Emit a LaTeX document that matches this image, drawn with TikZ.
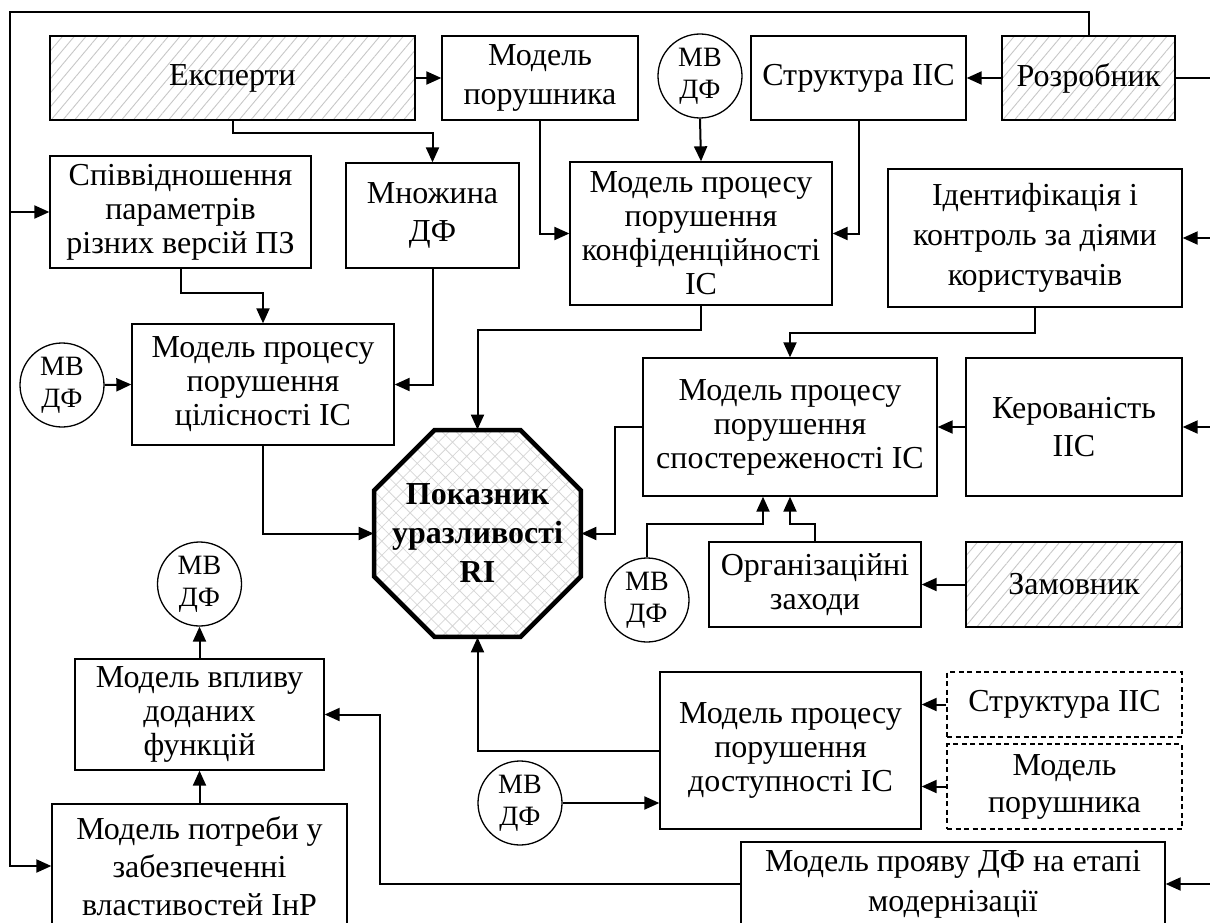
\documentclass[tikz,border=0pt]{standalone}
\usepackage{fontspec}
\setmainfont{Liberation Serif}
\usetikzlibrary{arrows.meta,shapes.geometric,patterns.meta,calc}

\tikzset{
  base/.style={font=\fontsize{32}{34}\selectfont, align=center, inner sep=0pt},
  blk/.style={base, draw, line width=1.3pt, rectangle},
  hatched/.style={blk, pattern={Lines[angle=50,distance=9pt,line width=0.9pt]}, pattern color=black!22},
  dashblk/.style={blk, dash pattern=on 5pt off 3.5pt},
  mvdf/.style={base, draw, circle, line width=1.3pt, minimum size=84pt, font=\fontsize{28}{32}\selectfont},
  octa/.style={draw, regular polygon, regular polygon sides=8, minimum size=224pt, inner sep=0pt,
    line width=4.5pt, pattern={Hatch[angle=45,distance=10pt,line width=0.8pt]}, pattern color=black!16},
  octatext/.style={base, font=\fontsize{32}{39}\selectfont\bfseries},
  conn/.style={line width=2pt, -{Triangle[length=15pt,width=13pt]}},
  plain/.style={line width=2pt},
}

\begin{document}
\begin{tikzpicture}[x=1pt, y=-1pt]
\useasboundingbox (0,0) rectangle (1210,923);

% --- top row
\node[hatched, minimum width=365pt, minimum height=84pt] (expert) at (232.5,78) {Експерти};
\node[blk, minimum width=196pt, minimum height=84pt, font=\fontsize{32}{39}\selectfont] (intr) at (540,78) {Модель\\порушника};
\node[mvdf] (mvA) at (700,76) {МВ\\ДФ};
\node[blk, minimum width=215pt, minimum height=84pt] (struct) at (858.5,78) {Структура ІІС};
\node[hatched, minimum width=173pt, minimum height=84pt] (dev) at (1088.5,78) {Розробник};

% --- second row
\node[blk, minimum width=261pt, minimum height=112pt] (ratio) at (180.5,212) {Співвідношення\\параметрів\\різних версій ПЗ};
\node[blk, minimum width=173pt, minimum height=105pt, font=\fontsize{32}{38}\selectfont] (setdf) at (432.5,215.5) {Множина\\ДФ};
\node[blk, minimum width=262pt, minimum height=143pt] (conf) at (701,233.5) {Модель процесу\\порушення\\конфіденційності\\ІС};
\node[blk, minimum width=294pt, minimum height=138pt, font=\fontsize{32}{40}\selectfont] (ident) at (1035,238) {Ідентифікація і\\контроль за діями\\користувачів};

% --- middle
\node[mvdf] (mvB) at (62,385) {МВ\\ДФ};
\node[blk, minimum width=262pt, minimum height=121pt] (integ) at (263,384.5) {Модель процесу\\порушення\\цілісності ІС};
\node[octa] (ri) at (477.5,533.5) {};
\node[octatext] (riText) at (ri.center) {Показник\\уразливості\\RI};
\node[blk, minimum width=294pt, minimum height=138pt] (obs) at (790,427) {Модель процесу\\порушення\\спостереженості ІС};
\node[blk, minimum width=216pt, minimum height=138pt, font=\fontsize{32}{38}\selectfont] (ctrl) at (1074,427) {Керованість\\ІІС};
\node[mvdf] (mvC) at (647,600) {МВ\\ДФ};
\node[blk, minimum width=212pt, minimum height=85pt] (org) at (815,584.5) {Організаційні\\заходи};
\node[hatched, minimum width=216pt, minimum height=85pt] (cust) at (1074,584.5) {Замовник};

% --- lower part
\node[mvdf] (mvD) at (199.5,584) {МВ\\ДФ};
\node[blk, minimum width=249pt, minimum height=111pt] (infl) at (199.5,714.5) {Модель впливу\\доданих\\функцій};
\node[blk, minimum width=295pt, minimum height=124pt, font=\fontsize{32}{38}\selectfont] (need) at (199.5,866) {Модель потреби у\\забезпеченні\\властивостей ІнР};
\node[mvdf] (mvE) at (520,803) {МВ\\ДФ};
\node[blk, minimum width=261pt, minimum height=157pt] (avail) at (790.5,750.5) {Модель процесу\\порушення\\доступності ІС};
\node[dashblk, minimum width=235pt, minimum height=65pt] (dstruct) at (1064.5,704.5) {Структура ІІС};
\node[dashblk, minimum width=235pt, minimum height=85pt, font=\fontsize{32}{37}\selectfont] (dintr) at (1064.5,786.5) {Модель\\порушника};
\node[blk, minimum width=424pt, minimum height=84pt, font=\fontsize{32}{40}\selectfont] (manif) at (953,884) {Модель прояву ДФ на етапі\\модернізації};

% frame corners and off-page ends
\coordinate (topR) at (1088.5,12);
\coordinate (topL) at (10,12);
\coordinate (eDev) at (1214,78);
\coordinate (eIdent) at (1214,238);
\coordinate (eCtrl) at (1214,427);
\coordinate (eManif) at (1214,884);

% --- connectors
\draw[conn] (expert.east) -- (intr.west);
\draw[conn] (expert.south) -- ++(0,13) -| (setdf.north);
\draw[conn] (intr.south) |- (conf.west);
\draw[conn] (mvA.south) -- (conf.north);
\draw[conn] (dev.west) -- (struct.east);
\draw[conn] (struct.south) |- (conf.east);
\draw[plain] (dev.east) -- (eDev);
\draw[conn] (dev.north) -- (topR) -- (topL) |- (need.west);
\draw[conn] (topL |- ratio.west) -- (ratio.west);
\draw[conn] (eIdent) -- (ident.east);
\draw[conn] (eCtrl) -- (ctrl.east);
\draw[conn] (eManif) -- (manif.east);

\draw[conn] (ratio.south) -- ++(0,24) -| (integ.north);
\draw[conn] (setdf.south) |- (integ.east);
\draw[conn] (mvB.east) -- (integ.west);
\draw[conn] (conf.south) -- ++(0,24) -| (ri.90);
\draw[conn] (integ.south) |- (ri.180);
\draw[conn] (ident.south) -- ++(0,25) -| (obs.north);
\draw[conn] (ctrl.west) -- (obs.east);
\draw[conn] (obs.west) -- ++(-27,0) |- (ri.0);
\draw[conn] (mvC.north) -- ++(0,-33) -| ($(obs.south)+(-27,0)$);
\draw[conn] (org.north) -- ++(0,-17) -| (obs.south);
\draw[conn] (cust.west) -- (org.east);

\draw[conn] (avail.west) -| (ri.270);
\draw[conn] (mvE.east) -- (mvE.east -| avail.west);
\draw[conn] (dstruct.west) -- (dstruct.west -| avail.east);
\draw[conn] (dintr.west) -- (dintr.west -| avail.east);
\draw[conn] (manif.west) -- ++(-360,0) |- (infl.east);
\draw[conn] (infl.north) -- (mvD.south);
\draw[conn] (need.north) -- (infl.south);
\end{tikzpicture}
\end{document}
